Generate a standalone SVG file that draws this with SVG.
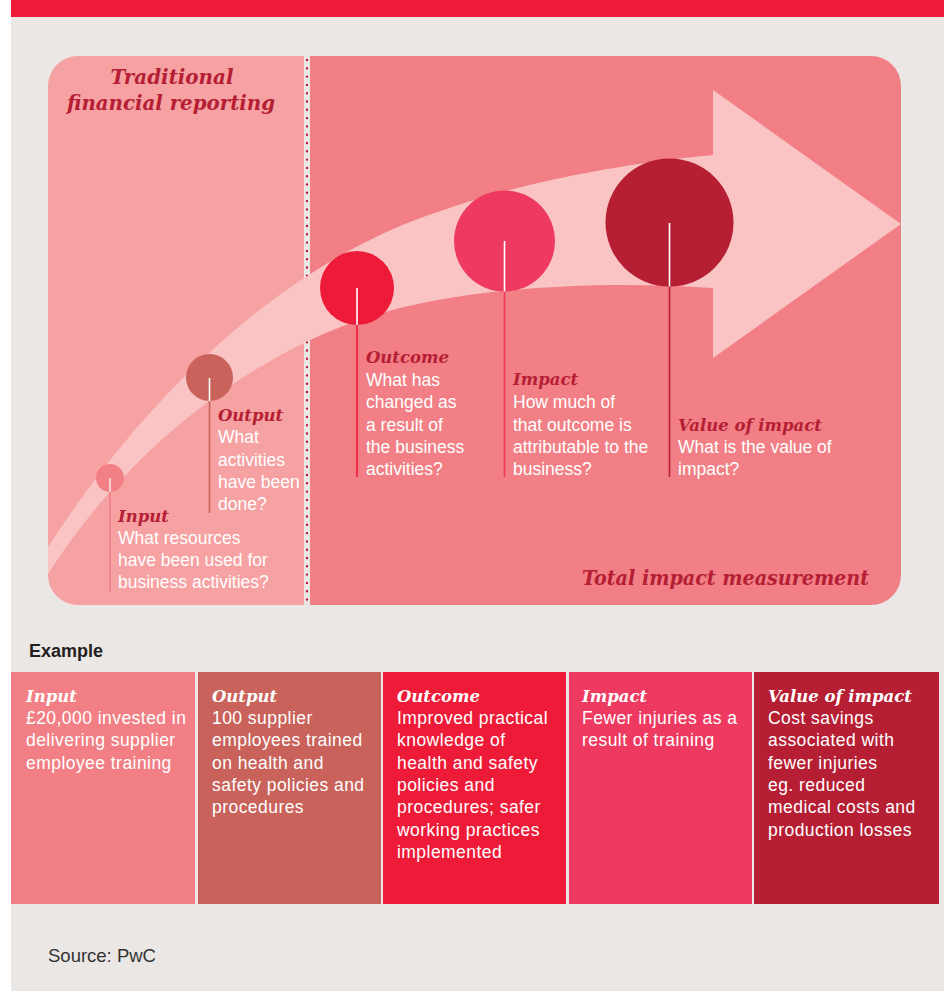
<svg xmlns="http://www.w3.org/2000/svg" width="944" height="991" viewBox="0 0 944 991">
<style>
.h{font-family:"DejaVu Serif",Georgia,serif;font-weight:bold;font-style:italic}
.hd{fill:#B51E34}
.hw{fill:#FFFFFF}
.b{font-family:"Liberation Sans",Arial,Helvetica,sans-serif;font-size:17.5px;fill:#FFFFFF}
.t{font-family:"Liberation Sans",Arial,Helvetica,sans-serif;font-size:17.5px;letter-spacing:0.45px;fill:#FFFFFF}
.stem{stroke-width:1.6;fill:none}
</style>
<defs>
<clipPath id="panel"><rect x="48" y="56" width="853" height="549" rx="30" ry="30"/></clipPath>
</defs>
<rect x="0" y="0" width="944" height="991" fill="#FFFFFF"/>
<rect x="11" y="0" width="933" height="991" fill="#EBE7E4"/>
<rect x="11" y="0" width="933" height="17" fill="#EE1B38"/>

<g id="panel-bg" clip-path="url(#panel)">
<rect x="48" y="56" width="256" height="549" fill="#F6A1A2"/>
<rect x="310" y="56" width="591" height="549" fill="#F17F85"/>
<rect x="304" y="56" width="6" height="549" fill="#EBE7E4"/>
<line x1="307" y1="60" x2="307" y2="605" stroke="#B51E34" stroke-width="2.4" stroke-linecap="round" stroke-dasharray="0 8.3"/>
<path id="band" d="M48,547 C130,420 250,290 400,226 C480,194 580,168 713,155 L713,90 L901,224 L713,358 L713,288 C600,280 480,288 400,308 C250,345 120,460 48,574 Z" fill="#F9C4C3"/>
</g>

<g id="title-traditional">
<text class="h hd" x="172" y="84" font-size="21" text-anchor="middle" textLength="123" lengthAdjust="spacingAndGlyphs">Traditional</text>
<text class="h hd" x="171" y="110" font-size="21" text-anchor="middle" textLength="208" lengthAdjust="spacingAndGlyphs">financial reporting</text>
</g>
<g id="title-total">
<text class="h hd" x="582" y="585" font-size="20" textLength="287" lengthAdjust="spacingAndGlyphs">Total impact measurement</text>
</g>

<g id="connectors">
<line class="stem" x1="110" y1="478" x2="110" y2="592" stroke="#F17F85"/>
<line class="stem" x1="209.5" y1="378" x2="209.5" y2="513" stroke="#C8625A"/>
<line class="stem" x1="357" y1="288" x2="357" y2="477" stroke="#EE1B38"/>
<line class="stem" x1="504.5" y1="241" x2="504.5" y2="477" stroke="#EE3A60"/>
<line class="stem" x1="669.5" y1="223" x2="669.5" y2="477" stroke="#B61E33"/>
</g>

<g id="node-input">
<circle cx="110" cy="478" r="14" fill="#F17F85"/>
<line class="stem" x1="110" y1="478" x2="110" y2="492" stroke="#FBE3E3"/>
<text class="h hd" x="118" y="522" font-size="16.5">Input</text>
<text class="b" x="118" y="544">What resources</text>
<text class="b" x="118" y="566">have been used for</text>
<text class="b" x="118" y="588">business activities?</text>
</g>

<g id="node-output">
<circle cx="209.5" cy="377.5" r="23.5" fill="#C8625A"/>
<line class="stem" x1="209.5" y1="378" x2="209.5" y2="401" stroke="#FFFFFF"/>
<text class="h hd" x="218" y="421" font-size="16.5">Output</text>
<text class="b" x="218" y="443">What</text>
<text class="b" x="218" y="466">activities</text>
<text class="b" x="218" y="488">have been</text>
<text class="b" x="218" y="510">done?</text>
</g>

<g id="node-outcome">
<circle cx="357" cy="288" r="37" fill="#EE1B38"/>
<line class="stem" x1="357" y1="288" x2="357" y2="325" stroke="#FFFFFF"/>
<text class="h hd" x="366" y="363" font-size="16.5">Outcome</text>
<text class="b" x="366" y="386">What has</text>
<text class="b" x="366" y="408">changed as</text>
<text class="b" x="366" y="431">a result of</text>
<text class="b" x="366" y="453">the business</text>
<text class="b" x="366" y="475">activities?</text>
</g>

<g id="node-impact">
<circle cx="504.5" cy="241" r="50.5" fill="#EE3A60"/>
<line class="stem" x1="504.5" y1="241" x2="504.5" y2="291.5" stroke="#FFFFFF"/>
<text class="h hd" x="513" y="385" font-size="16.5">Impact</text>
<text class="b" x="513" y="408">How much of</text>
<text class="b" x="513" y="431">that outcome is</text>
<text class="b" x="513" y="453">attributable to the</text>
<text class="b" x="513" y="475">business?</text>
</g>

<g id="node-value">
<circle cx="669.5" cy="222.5" r="64" fill="#B61E33"/>
<line class="stem" x1="669.5" y1="223" x2="669.5" y2="286.5" stroke="#FFFFFF"/>
<text class="h hd" x="678" y="431" font-size="16.5">Value of impact</text>
<text class="b" x="678" y="453">What is the value of</text>
<text class="b" x="678" y="475">impact?</text>
</g>

<g id="example-label">
<text x="29" y="657" font-family="Liberation Sans,Arial,sans-serif" font-weight="bold" font-size="18" fill="#231F20">Example</text>
</g>

<g id="ex-input">
<rect x="11" y="672" width="184" height="232" fill="#F17F85"/>
<text class="h hw" x="26" y="702" font-size="16.5">Input</text>
<text class="t" x="26" y="724">£20,000 invested in</text>
<text class="t" x="26" y="746">delivering supplier</text>
<text class="t" x="26" y="769">employee training</text>
</g>
<g id="ex-output">
<rect x="198" y="672" width="183" height="232" fill="#C8625A"/>
<text class="h hw" x="212" y="702" font-size="16.5">Output</text>
<text class="t" x="212" y="724">100 supplier</text>
<text class="t" x="212" y="746">employees trained</text>
<text class="t" x="212" y="769">on health and</text>
<text class="t" x="212" y="791">safety policies and</text>
<text class="t" x="212" y="813">procedures</text>
</g>
<g id="ex-outcome">
<rect x="383" y="672" width="183" height="232" fill="#EE1B38"/>
<text class="h hw" x="397" y="702" font-size="16.5">Outcome</text>
<text class="t" x="397" y="724">Improved practical</text>
<text class="t" x="397" y="746">knowledge of</text>
<text class="t" x="397" y="769">health and safety</text>
<text class="t" x="397" y="791">policies and</text>
<text class="t" x="397" y="813">procedures; safer</text>
<text class="t" x="397" y="836">working practices</text>
<text class="t" x="397" y="858">implemented</text>
</g>
<g id="ex-impact">
<rect x="569" y="672" width="183" height="232" fill="#EE3A60"/>
<text class="h hw" x="582" y="702" font-size="16.5">Impact</text>
<text class="t" x="582" y="724">Fewer injuries as a</text>
<text class="t" x="582" y="746">result of training</text>
</g>
<g id="ex-value">
<rect x="754" y="672" width="185" height="232" fill="#B61E33"/>
<text class="h hw" x="768" y="702" font-size="16.5">Value of impact</text>
<text class="t" x="768" y="724">Cost savings</text>
<text class="t" x="768" y="746">associated with</text>
<text class="t" x="768" y="769">fewer injuries</text>
<text class="t" x="768" y="791">eg. reduced</text>
<text class="t" x="768" y="813">medical costs and</text>
<text class="t" x="768" y="836">production losses</text>
</g>

<g id="source">
<text x="48" y="962" font-family="Liberation Sans,Arial,sans-serif" font-size="18.5" fill="#333333">Source: PwC</text>
</g>
</svg>
